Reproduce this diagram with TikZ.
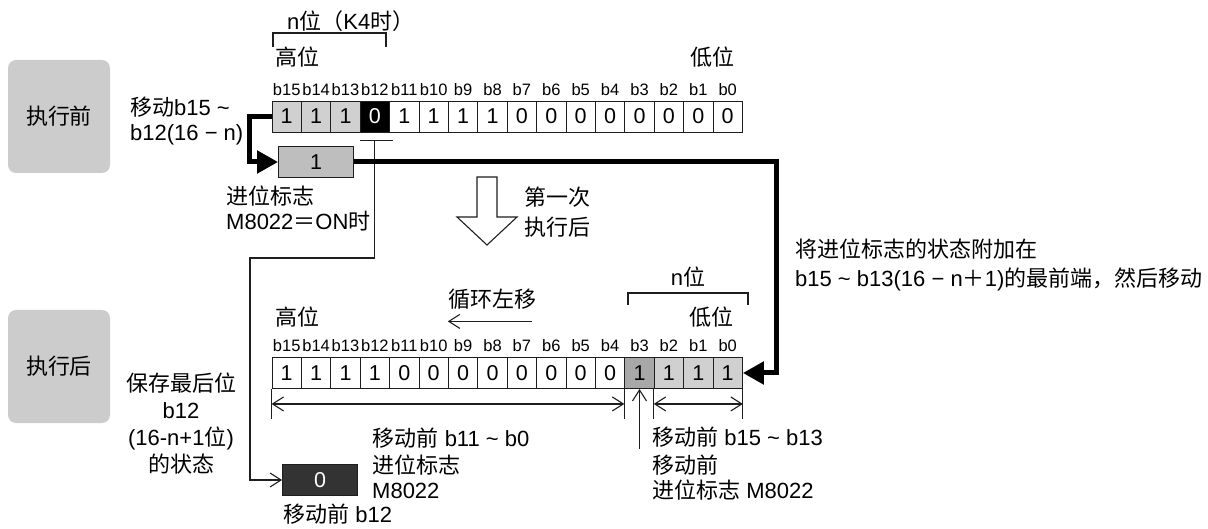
\documentclass[tikz,border=0pt]{standalone}
\usepackage{fontspec}
\setmainfont{Liberation Sans}
\newfontfamily\zh{Noto Sans CJK SC}
\usetikzlibrary{arrows.meta,positioning,calc}
\definecolor{RLpanel}{RGB}{204,204,204}
\definecolor{RLlight}{RGB}{208,208,208}
\definecolor{RLmid}{RGB}{190,190,190}
\definecolor{RLdark}{RGB}{168,168,168}
\definecolor{RLblack}{RGB}{0,0,0}
\definecolor{RLcarry}{RGB}{51,51,51}
\definecolor{RLline}{RGB}{30,30,30}
\tikzset{
  panel/.style={rounded corners=8pt,fill=RLpanel,minimum width=102pt,minimum height=113pt,
                inner sep=0pt,font=\fontsize{22}{26}\selectfont\zh},
  bitbox/.style={draw=RLline,line width=0.9pt,minimum width=29.4pt,minimum height=31pt,
                 inner sep=0pt,font=\fontsize{21.5}{21.5}\selectfont},
  bitlbl/.style={inner sep=0pt,font=\fontsize{16.5}{17}\selectfont},
  carry/.style={draw=RLline,line width=0.9pt,minimum width=75pt,minimum height=31pt,
                inner sep=0pt,font=\fontsize{21.5}{21.5}\selectfont},
  lbl/.style={inner sep=0pt,align=left,font=\fontsize{22}{25}\selectfont},
  fat/.style={line width=5pt,draw=black,-{Triangle[length=21pt,width=22pt]}},
  ln/.style={line width=1.1pt,draw=RLline},
  la/.style={ln,-{Straight Barb[length=11pt,width=14pt]}},
  dim/.style={ln,{Straight Barb[length=11pt,width=14pt]}-{Straight Barb[length=11pt,width=14pt]}}
}

\begin{document}
\begin{tikzpicture}[x=1pt,y=-1pt]
  \useasboundingbox (0,0) rectangle (1208,529);
  % left panels
  \node[panel] (before) at (59,116.5) {执行前};
  \node[panel] (after) at (59,366.5) {执行后};

  % register before the shift
  \foreach \v/\f/\t [count=\j from 0] in {1/RLlight/black,1/RLlight/black,1/RLlight/black,0/RLblack/white,
      1/white/black,1/white/black,1/white/black,1/white/black,0/white/black,0/white/black,0/white/black,
      0/white/black,0/white/black,0/white/black,0/white/black,0/white/black} {
    \pgfmathtruncatemacro\b{15-\j}
    \node[bitbox,fill=\f,text=\t] (t\b) at (286.7+29.4*\j,116.5) {\v};
    \node[bitlbl,above=5pt of t\b] (tl\b) {b\b};
  }
  % register after the shift
  \foreach \v/\f [count=\j from 0] in {1/white,1/white,1/white,1/white,0/white,0/white,0/white,0/white,
      0/white,0/white,0/white,0/white,1/RLdark,1/RLlight,1/RLlight,1/RLlight} {
    \pgfmathtruncatemacro\b{15-\j}
    \node[bitbox,fill=\f] (u\b) at (286.7+29.4*\j,373) {\v};
    \node[bitlbl,above=5pt of u\b] (ul\b) {b\b};
  }

  % carry flag boxes
  \node[carry,fill=RLmid] (cy1) at (316,162) {1};
  \node[carry,fill=RLcarry,text=white] (cy0) at (320,480) {0};

  % brackets
  \draw[ln] (273,47) -- (273,33) -- (386,33) -- (386,47);
  \draw[ln] (628,305) -- (628,293) -- (748,293) -- (748,305);

  % texts
  \node[lbl,anchor=west] (nk) at (287,21) {n{\zh 位（}K4{\zh 时）}};
  \node[lbl,anchor=west] (hi1) at (275,57) {\zh 高位};
  \node[lbl,anchor=west] (lo1) at (690,57) {\zh 低位};
  \node[lbl,anchor=west] (mv) at (130,121) {{\zh 移动}b15 \textasciitilde\\b12(16 − n)};
  \node[lbl,anchor=west] (cf) at (226,208) {{\zh 进位标志}\\M8022{\zh ＝}ON{\zh 时}};
  \node[lbl,anchor=west] (first) at (524,212) {{\zh 第一次}\\[5pt]{\zh 执行后}};
  \node[lbl,anchor=west] (note) at (795,265) {{\zh 将进位标志的状态附加在}\\[4pt]b15 \textasciitilde{} b13(16 − n{\zh ＋}1){\zh 的最前端，然后移动}};
  \node[lbl] (n2) at (688,277) {n{\zh 位}};
  \node[lbl,anchor=west] (hi2) at (275,317) {\zh 高位};
  \node[lbl] (lo2) at (711,317) {\zh 低位};
  \node[lbl] (rot) at (492,299) {\zh 循环左移};
  \node[lbl,align=center,font=\fontsize{22}{27}\selectfont] (keep) at (181,424) {{\zh 保存最后位}\\b12\\(16-n+1{\zh 位})\\{\zh 的状态}};
  \node[lbl] (m1) at (451,438) {{\zh 移动前} b11 \textasciitilde{} b0};
  \node[lbl,anchor=west] (m2) at (652,437) {{\zh 移动前} b15 \textasciitilde{} b13};
  \node[lbl,anchor=west] (m3) at (652,478) {{\zh 移动前}\\{\zh 进位标志} M8022};
  \node[lbl,anchor=west] (m4) at (372,477) {{\zh 进位标志}\\M8022};
  \node[lbl,anchor=west] (m5) at (283,514) {{\zh 移动前} b12};

  % hollow arrow
  \draw[ln,fill=white] (477,177) -- (497,177) -- (497,217) -- (517,217) -- (487,245)
    -- (457,217) -- (477,217) -- cycle;

  % carry path
  \coordinate (tap) at ($(t12.south)+(0,8)$);
  \draw[ln] ($(tap)+(-15,0)$) -- ($(tap)+(18,0)$);
  \draw[la] (tap) |- (250,258) |- (cy0);
  \draw[fat] (t15.west) -- ++(-22,0) |- (cy1);
  \draw[fat] (cy1.east) -- ++(423,0) |- (u0);

  % spans under the result
  \draw[ln] (u15.south west) -- ++(0,30);
  \draw[ln] (u3.south west) -- ++(0,30);
  \draw[ln] (u2.south west) -- ++(0,30);
  \draw[ln] (u0.south east) -- ++(0,30);
  \draw[dim] ($(u15.south west)+(0,15)$) -- ($(u3.south west)+(0,15)$);
  \draw[dim] ($(u2.south west)+(0,15)$) -- ($(u0.south east)+(0,15)$);
  \draw[la] ($(u3.south)+(0,60)$) -- (u3.south);
  \draw[la] ($(rot.south east)+(-4,12)$) -- ($(rot.south west)+(0,12)$);
\end{tikzpicture}
\end{document}
